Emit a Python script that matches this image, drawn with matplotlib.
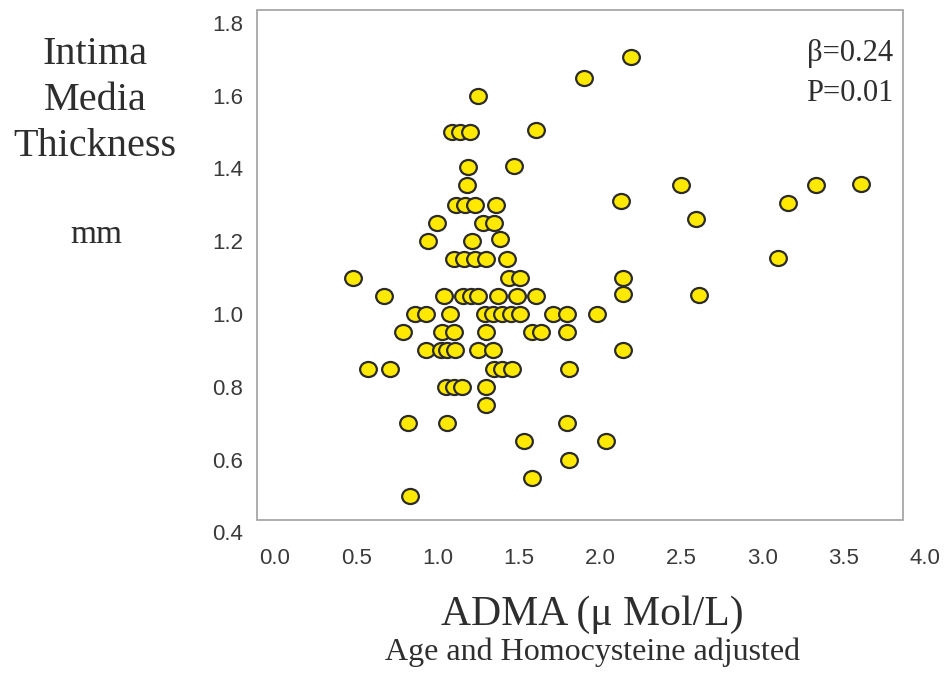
import matplotlib
matplotlib.use("Agg")
import matplotlib.pyplot as plt
from matplotlib.path import Path
from matplotlib.patches import Rectangle
from matplotlib.transforms import Affine2D

# ADMA (x) and intima media thickness (y)
adma = [2.19,
        1.90,
        1.25,
        1.09, 1.14, 1.20, 1.61,
        1.19, 1.47,
        1.18, 2.50, 3.33, 3.61,
        1.115, 1.17, 1.23, 1.36, 2.13, 3.16,
        1.00, 1.28, 1.35, 2.59,
        0.94, 1.215, 1.385,
        1.10, 1.165, 1.23, 1.30, 1.43, 3.10,
        0.48, 1.44, 1.51, 2.14,
        0.67, 1.04, 1.16, 1.205, 1.25, 1.37, 1.49, 1.61, 2.145, 2.61,
        0.86, 0.93, 1.08, 1.29, 1.34, 1.40, 1.455, 1.51, 1.71, 1.80, 1.98,
        0.79, 1.03, 1.10, 1.30, 1.58, 1.64, 1.80,
        0.93, 1.02, 1.06, 1.11, 1.25, 1.345, 2.145,
        0.57, 0.71, 1.35, 1.40, 1.46, 1.81,
        1.05, 1.10, 1.15, 1.30,
        1.30,
        0.82, 1.06, 1.80,
        1.535, 2.04,
        1.81,
        1.58,
        0.83]
imt = [1.705,
       1.648,
       1.60,
       1.50, 1.50, 1.50, 1.505,
       1.404, 1.407,
       1.355, 1.355, 1.353, 1.357,
       1.30, 1.30, 1.30, 1.30, 1.309, 1.306,
       1.25, 1.25, 1.25, 1.261,
       1.20, 1.20, 1.205,
       1.15, 1.15, 1.15, 1.15, 1.15, 1.154,
       1.10, 1.10, 1.10, 1.10,
       1.05, 1.05, 1.05, 1.05, 1.05, 1.05, 1.05, 1.05, 1.055, 1.052,
       1.00, 1.00, 1.00, 1.00, 1.00, 1.00, 1.00, 1.00, 1.00, 1.00, 1.00,
       0.95, 0.95, 0.95, 0.95, 0.95, 0.95, 0.95,
       0.90, 0.90, 0.90, 0.90, 0.90, 0.90, 0.90,
       0.85, 0.85, 0.85, 0.85, 0.85, 0.85,
       0.80, 0.80, 0.80, 0.80,
       0.75,
       0.70, 0.70, 0.70,
       0.65, 0.65,
       0.60,
       0.55,
       0.50]

xticks = [0.0, 0.5, 1.0, 1.5, 2.0, 2.5, 3.0, 3.5, 4.0]
yticks = [0.4, 0.6, 0.8, 1.0, 1.2, 1.4, 1.6, 1.8]

TEXT = "#2e2e2e"
SERIF = ["Liberation Serif", "DejaVu Serif"]

fig = plt.figure(figsize=(9.44, 6.75), dpi=100)
ax = fig.add_axes([0.27225, 0.21126, 0.70720, 0.77393])
ax.set_xlim(-0.111, 4.0)
ax.set_ylim(0.40, 1.835)
for sp in ax.spines.values():
    sp.set_visible(False)

# the drawn frame stops short of the 4.0 / 0.4 ticks in the original
ax.add_patch(Rectangle((-0.111, 0.434), 3.981, 1.401, fill=False,
                       edgecolor="#a0a0a0", linewidth=1.2, clip_on=False))

# slightly flattened circles
ell = Path.unit_circle().transformed(Affine2D().scale(1.0, 0.9))
ax.scatter(adma, imt, marker=ell, s=145, facecolor="#ffe900",
           edgecolor="#2b2b2b", linewidth=1.6, zorder=3, clip_on=False)

ax.set_xticks(xticks)
ax.set_xticklabels([f"{v:.1f}" for v in xticks])
ax.set_yticks(yticks)
ax.set_yticklabels([f"{v:.1f}" for v in yticks])
ax.tick_params(axis="both", length=0, labelsize=16, labelcolor="#3a3a3a")
ax.tick_params(axis="x", pad=11)
ax.tick_params(axis="y", pad=10)
for lab in ax.get_xticklabels() + ax.get_yticklabels():
    lab.set_family(["Liberation Sans", "DejaVu Sans"])

W, H = 944, 675

def ftext(x, y, s, size, ha="center"):
    fig.text(x / W, 1 - y / H, s, fontsize=size, family=SERIF, color=TEXT,
             ha=ha, va="baseline")

ftext(95, 64, "Intima", 29)
ftext(95, 110, "Media", 29)
ftext(95, 156, "Thickness", 29)
ftext(96, 243, "mm", 24)

ftext(893, 61, "β=0.24", 22, ha="right")
ftext(893, 101, "P=0.01", 22, ha="right")

ftext(592, 625, "ADMA (μ Mol/L)", 30)
ftext(593, 660, "Age and Homocysteine adjusted", 23)

fig.savefig("out.png", dpi=100)
